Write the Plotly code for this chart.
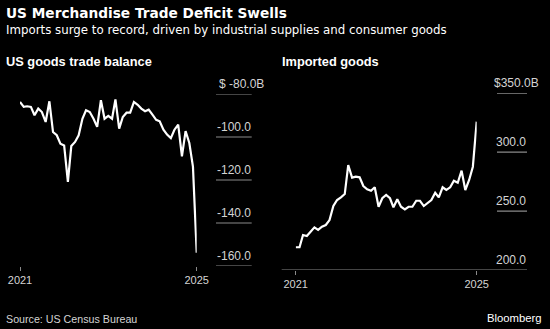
import pandas as pd
import plotly.graph_objects as go

# Monthly series, Jan 2021 - Jan 2025 (billions of dollars)
months = pd.date_range("2021-01-01", periods=49, freq="MS")

goods_balance = [
    -83.7, -86.0, -85.7, -86.0, -89.9, -86.8, -88.4, -93.0, -83.4, -97.7,
    -99.2, -103.1, -103.9, -120.9, -104.2, -102.3, -99.2, -91.5, -87.6, -88.4,
    -91.5, -95.3, -82.9, -91.5, -90.2, -91.5, -82.5, -96.1, -90.7, -88.7,
    -88.7, -83.7, -85.0, -86.8, -88.0, -87.3, -89.6, -92.0, -92.7, -96.6,
    -98.9, -100.5, -96.6, -94.3, -109.0, -97.3, -102.8, -113.8, -153.8,
]

imported_goods = [
    219.3, 219.3, 229.7, 228.9, 232.5, 236.2, 234.0, 236.8, 238.2, 242.4,
    254.3, 259.4, 261.7, 264.5, 289.1, 278.4, 279.2, 278.7, 271.3, 268.5,
    267.3, 270.2, 253.7, 260.9, 263.7, 260.9, 253.2, 260.0, 253.7, 251.5,
    253.7, 253.7, 258.8, 258.8, 254.3, 257.1, 259.4, 265.6, 261.7, 270.2,
    267.9, 270.2, 275.8, 274.1, 284.3, 267.9, 276.4, 287.7, 325.9,
]

x_tick_vals = ["2021-01-01", "2025-01-01"]
x_tick_text = ["2021", "2025"]

left_y_ticks = [-80, -100, -120, -140, -160]
left_y_text = ["$ -80.0B", "-100.0", "-120.0", "-140.0", "-160.0"]
right_y_ticks = [350, 300, 250, 200]
right_y_text = ["$350.0B", "300.0", "250.0", "200.0"]

W, H = 550, 329
FONT = "Liberation Sans"
WIDE_FONT = "DejaVu Sans"
GRID = "#8a8a8a"
LABEL = "#d4d4d4"


def px(x):
    return x / W


def py(y):
    return 1 - y / H


fig = go.Figure()
fig.add_trace(go.Scatter(x=months, y=goods_balance, mode="lines",
                         line=dict(color="white", width=2.2),
                         xaxis="x", yaxis="y", hoverinfo="skip"))
fig.add_trace(go.Scatter(x=months, y=imported_goods, mode="lines",
                         line=dict(color="white", width=2.2),
                         xaxis="x2", yaxis="y2", hoverinfo="skip"))

xaxis_common = dict(
    type="date", range=["2021-01-01", "2025-01-01"],
    tickvals=x_tick_vals, ticktext=x_tick_text,
    ticks="outside", ticklen=4, tickwidth=1, tickcolor=GRID,
    showgrid=False, zeroline=False, showline=False, automargin=False,
    tickfont=dict(family=FONT, size=11, color=LABEL),
)

shapes = []
annotations = []

# short gridlines and value labels, left panel
for v, t in zip(left_y_ticks, left_y_text):
    shapes.append(dict(type="line", xref="paper", yref="y",
                       x0=px(216), x1=px(251.7), y0=v, y1=v,
                       line=dict(color=GRID, width=1.2)))
    top = t.startswith("$")
    annotations.append(dict(xref="paper", yref="y",
                            x=px(216.5) if top else px(252.5), y=v,
                            xanchor="left" if top else "right", yanchor="bottom",
                            yshift=1, text=t, showarrow=False,
                            font=dict(family=FONT, size=12, color=LABEL)))

# gridlines, baseline and value labels, right panel
for v, t in zip(right_y_ticks, right_y_text):
    x0 = px(281.7) if v == 200 else px(497)
    shapes.append(dict(type="line", xref="paper", yref="y2",
                       x0=x0, x1=px(527), y0=v, y1=v,
                       line=dict(color=GRID, width=1.2)))
    top = t.startswith("$")
    annotations.append(dict(xref="paper", yref="y2",
                            x=px(492) if top else px(527.8), y=v,
                            xanchor="left" if top else "right", yanchor="bottom",
                            yshift=1, text=t, showarrow=False,
                            font=dict(family=FONT, size=12, color=LABEL)))

# headings and footer
annotations += [
    dict(xref="paper", yref="paper", x=px(4), y=py(13), xanchor="left", yanchor="middle",
         text="<b>US Merchandise Trade Deficit Swells</b>", showarrow=False,
         font=dict(family=WIDE_FONT, size=13.7, color="white")),
    dict(xref="paper", yref="paper", x=px(4), y=py(29.5), xanchor="left", yanchor="middle",
         text="Imports surge to record, driven by industrial supplies and consumer goods",
         showarrow=False, font=dict(family=WIDE_FONT, size=11.8, color="white")),
    dict(xref="paper", yref="paper", x=px(4), y=py(61), xanchor="left", yanchor="middle",
         text="<b>US goods trade balance</b>", showarrow=False,
         font=dict(family=FONT, size=12.8, color="white")),
    dict(xref="paper", yref="paper", x=px(280), y=py(61), xanchor="left", yanchor="middle",
         text="<b>Imported goods</b>", showarrow=False,
         font=dict(family=FONT, size=12.8, color="white")),
    dict(xref="paper", yref="paper", x=px(4), y=py(319), xanchor="left", yanchor="middle",
         text="Source: US Census Bureau", showarrow=False,
         font=dict(family=FONT, size=10.7, color=LABEL)),
    dict(xref="paper", yref="paper", x=px(544), y=py(318), xanchor="right", yanchor="middle",
         text="Bloomberg", showarrow=False,
         font=dict(family=FONT, size=11.3, color="white")),
]

fig.update_layout(
    width=W, height=H,
    margin=dict(l=0, r=0, t=0, b=0, pad=0, autoexpand=False),
    paper_bgcolor="black", plot_bgcolor="black",
    showlegend=False,
    xaxis=dict(domain=[px(20), px(196.7)], anchor="y", **xaxis_common),
    yaxis=dict(domain=[py(266), py(94)], range=[-160, -80], anchor="x",
               visible=False, showgrid=False, zeroline=False),
    xaxis2=dict(domain=[px(295.7), px(476.7)], anchor="y2", **xaxis_common),
    yaxis2=dict(domain=[py(270), py(93.3)], range=[200, 350], anchor="x2",
                visible=False, showgrid=False, zeroline=False),
    shapes=shapes,
    annotations=annotations,
)

fig.write_html("out.html")
